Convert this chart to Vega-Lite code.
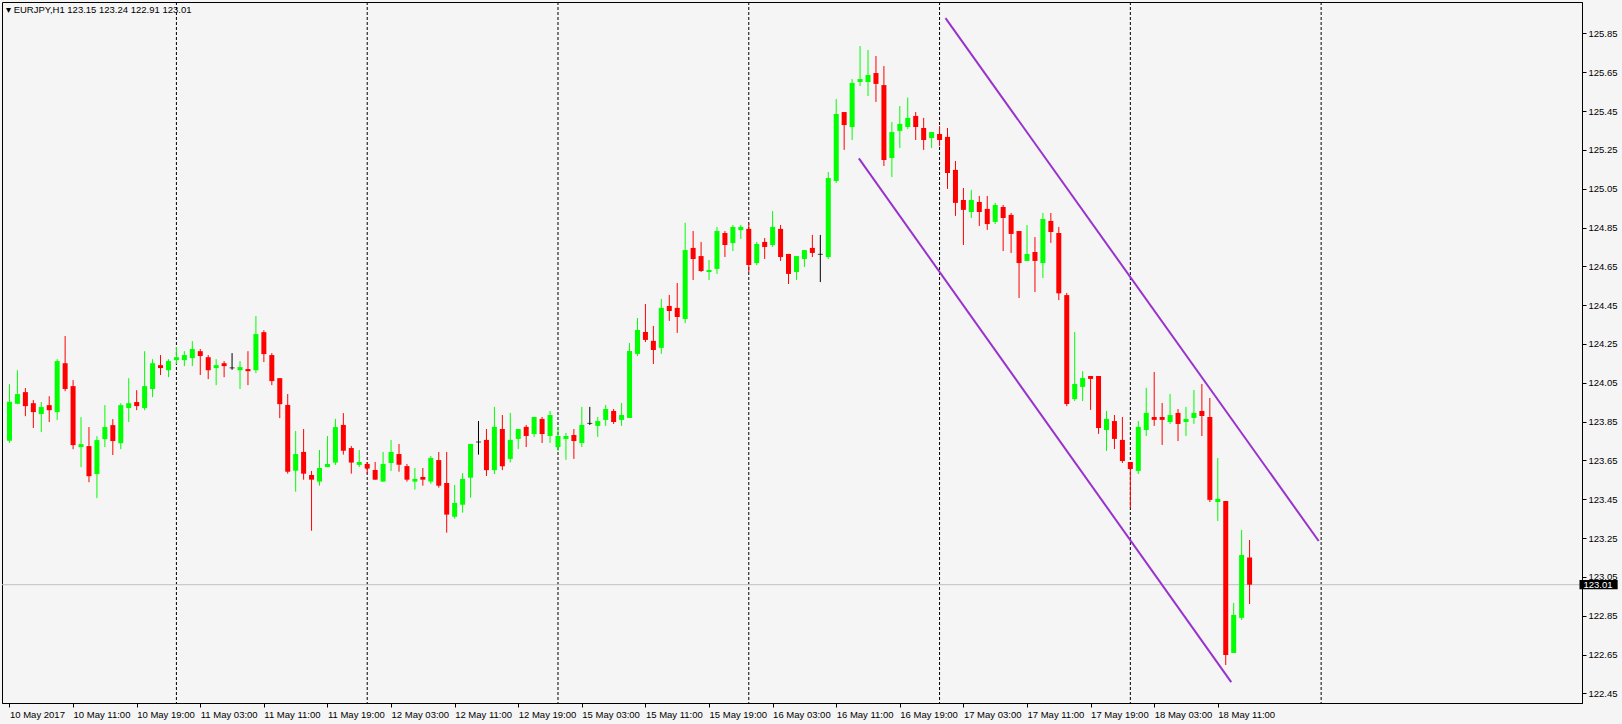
{
"$schema":"https://vega.github.io/schema/vega-lite/v6.json",
"width":1580,"height":701,
"autosize":{"type":"none"},
"padding":{"left":2,"top":2,"right":40,"bottom":21},
"background":"#F5F5F5",
"config":{"view":{"stroke":"#000000","strokeWidth":1},"font":"Liberation Sans"},
"title":{"text":"▾ EURJPY,H1  123.15 123.24 122.91 123.01","anchor":"start","frame":"group","orient":"top","offset":-11,"baseline":"alphabetic","fontSize":9.5,"font":"Liberation Sans","fontWeight":"normal","color":"#000000","dx":4,"dy":10},
"datasets":{
"candles":[
{"i":0,"o":123.751,"h":124.043,"l":123.741,"c":123.952},
{"i":1,"o":123.942,"h":124.115,"l":123.940,"c":123.992},
{"i":2,"o":124.002,"h":124.023,"l":123.878,"c":123.930},
{"i":3,"o":123.945,"h":123.961,"l":123.817,"c":123.899},
{"i":4,"o":123.889,"h":123.951,"l":123.796,"c":123.925},
{"i":5,"o":123.935,"h":123.981,"l":123.848,"c":123.909},
{"i":6,"o":123.899,"h":124.172,"l":123.858,"c":124.162},
{"i":7,"o":124.151,"h":124.291,"l":124.007,"c":124.018},
{"i":8,"o":124.033,"h":124.064,"l":123.708,"c":123.729},
{"i":9,"o":123.719,"h":123.873,"l":123.616,"c":123.734},
{"i":10,"o":123.724,"h":123.822,"l":123.538,"c":123.569},
{"i":11,"o":123.580,"h":123.775,"l":123.456,"c":123.755},
{"i":12,"o":123.760,"h":123.935,"l":123.719,"c":123.822},
{"i":13,"o":123.832,"h":123.863,"l":123.678,"c":123.750},
{"i":14,"o":123.739,"h":123.945,"l":123.708,"c":123.935},
{"i":15,"o":123.920,"h":124.074,"l":123.848,"c":123.945},
{"i":16,"o":123.951,"h":124.012,"l":123.909,"c":123.930},
{"i":17,"o":123.920,"h":124.213,"l":123.909,"c":124.033},
{"i":18,"o":124.018,"h":124.172,"l":123.976,"c":124.151},
{"i":19,"o":124.141,"h":124.193,"l":124.090,"c":124.126},
{"i":20,"o":124.115,"h":124.172,"l":124.079,"c":124.162},
{"i":21,"o":124.167,"h":124.234,"l":124.146,"c":124.182},
{"i":22,"o":124.167,"h":124.213,"l":124.136,"c":124.193},
{"i":23,"o":124.177,"h":124.265,"l":124.136,"c":124.224},
{"i":24,"o":124.213,"h":124.224,"l":124.090,"c":124.188},
{"i":25,"o":124.182,"h":124.193,"l":124.069,"c":124.115},
{"i":26,"o":124.126,"h":124.172,"l":124.038,"c":124.141},
{"i":27,"o":124.151,"h":124.162,"l":124.079,"c":124.136},
{"i":28,"o":124.127,"h":124.203,"l":124.117,"c":124.127},
{"i":29,"o":124.115,"h":124.162,"l":124.018,"c":124.131},
{"i":30,"o":124.121,"h":124.213,"l":124.038,"c":124.110},
{"i":31,"o":124.115,"h":124.394,"l":124.100,"c":124.301},
{"i":32,"o":124.311,"h":124.321,"l":124.157,"c":124.198},
{"i":33,"o":124.193,"h":124.203,"l":124.038,"c":124.059},
{"i":34,"o":124.074,"h":124.074,"l":123.868,"c":123.940},
{"i":35,"o":123.936,"h":123.992,"l":123.582,"c":123.592},
{"i":36,"o":123.597,"h":123.802,"l":123.489,"c":123.683},
{"i":37,"o":123.694,"h":123.812,"l":123.551,"c":123.582},
{"i":38,"o":123.575,"h":123.596,"l":123.288,"c":123.551},
{"i":39,"o":123.541,"h":123.704,"l":123.520,"c":123.611},
{"i":40,"o":123.616,"h":123.776,"l":123.616,"c":123.632},
{"i":41,"o":123.639,"h":123.864,"l":123.627,"c":123.822},
{"i":42,"o":123.833,"h":123.894,"l":123.680,"c":123.700},
{"i":43,"o":123.714,"h":123.724,"l":123.582,"c":123.639},
{"i":44,"o":123.627,"h":123.704,"l":123.616,"c":123.642},
{"i":45,"o":123.632,"h":123.642,"l":123.582,"c":123.608},
{"i":46,"o":123.601,"h":123.642,"l":123.551,"c":123.551},
{"i":47,"o":123.541,"h":123.694,"l":123.541,"c":123.632},
{"i":48,"o":123.637,"h":123.755,"l":123.596,"c":123.694},
{"i":49,"o":123.683,"h":123.735,"l":123.592,"c":123.628},
{"i":50,"o":123.621,"h":123.632,"l":123.541,"c":123.551},
{"i":51,"o":123.541,"h":123.611,"l":123.500,"c":123.555},
{"i":52,"o":123.565,"h":123.611,"l":123.520,"c":123.551},
{"i":53,"o":123.541,"h":123.673,"l":123.530,"c":123.663},
{"i":54,"o":123.652,"h":123.694,"l":123.510,"c":123.520},
{"i":55,"o":123.534,"h":123.694,"l":123.278,"c":123.371},
{"i":56,"o":123.360,"h":123.524,"l":123.350,"c":123.431},
{"i":57,"o":123.422,"h":123.585,"l":123.381,"c":123.555},
{"i":58,"o":123.561,"h":123.735,"l":123.458,"c":123.735},
{"i":59,"o":123.745,"h":123.853,"l":123.680,"c":123.745},
{"i":60,"o":123.756,"h":123.812,"l":123.570,"c":123.600},
{"i":61,"o":123.600,"h":123.926,"l":123.580,"c":123.823},
{"i":62,"o":123.812,"h":123.884,"l":123.600,"c":123.620},
{"i":63,"o":123.658,"h":123.895,"l":123.640,"c":123.756},
{"i":64,"o":123.761,"h":123.812,"l":123.709,"c":123.812},
{"i":65,"o":123.823,"h":123.833,"l":123.719,"c":123.776},
{"i":66,"o":123.786,"h":123.874,"l":123.771,"c":123.874},
{"i":67,"o":123.864,"h":123.874,"l":123.740,"c":123.786},
{"i":68,"o":123.776,"h":123.905,"l":123.740,"c":123.884},
{"i":69,"o":123.719,"h":123.823,"l":123.699,"c":123.776},
{"i":70,"o":123.761,"h":123.792,"l":123.653,"c":123.776},
{"i":71,"o":123.781,"h":123.812,"l":123.658,"c":123.750},
{"i":72,"o":123.740,"h":123.926,"l":123.719,"c":123.833},
{"i":73,"o":123.841,"h":123.926,"l":123.833,"c":123.841},
{"i":74,"o":123.828,"h":123.874,"l":123.771,"c":123.853},
{"i":75,"o":123.859,"h":123.936,"l":123.828,"c":123.915},
{"i":76,"o":123.905,"h":123.915,"l":123.838,"c":123.848},
{"i":77,"o":123.859,"h":123.946,"l":123.828,"c":123.884},
{"i":78,"o":123.869,"h":124.255,"l":123.869,"c":124.214},
{"i":79,"o":124.199,"h":124.384,"l":124.188,"c":124.322},
{"i":80,"o":124.312,"h":124.456,"l":124.260,"c":124.271},
{"i":81,"o":124.266,"h":124.343,"l":124.147,"c":124.219},
{"i":82,"o":124.230,"h":124.482,"l":124.199,"c":124.436},
{"i":83,"o":124.446,"h":124.503,"l":124.369,"c":124.420},
{"i":84,"o":124.436,"h":124.564,"l":124.307,"c":124.389},
{"i":85,"o":124.379,"h":124.874,"l":124.358,"c":124.734},
{"i":86,"o":124.745,"h":124.832,"l":124.580,"c":124.688},
{"i":87,"o":124.703,"h":124.776,"l":124.621,"c":124.626},
{"i":88,"o":124.621,"h":124.683,"l":124.580,"c":124.631},
{"i":89,"o":124.637,"h":124.853,"l":124.611,"c":124.832},
{"i":90,"o":124.822,"h":124.832,"l":124.698,"c":124.760},
{"i":91,"o":124.770,"h":124.863,"l":124.729,"c":124.853},
{"i":92,"o":124.837,"h":124.863,"l":124.791,"c":124.853},
{"i":93,"o":124.843,"h":124.873,"l":124.621,"c":124.657},
{"i":94,"o":124.667,"h":124.776,"l":124.657,"c":124.765},
{"i":95,"o":124.776,"h":124.796,"l":124.688,"c":124.750},
{"i":96,"o":124.760,"h":124.935,"l":124.750,"c":124.853},
{"i":97,"o":124.843,"h":124.863,"l":124.678,"c":124.698},
{"i":98,"o":124.714,"h":124.714,"l":124.559,"c":124.611},
{"i":99,"o":124.621,"h":124.703,"l":124.580,"c":124.703},
{"i":100,"o":124.688,"h":124.734,"l":124.647,"c":124.734},
{"i":101,"o":124.745,"h":124.812,"l":124.698,"c":124.719},
{"i":102,"o":124.712,"h":124.812,"l":124.569,"c":124.712},
{"i":103,"o":124.698,"h":125.136,"l":124.688,"c":125.105},
{"i":104,"o":125.090,"h":125.512,"l":125.080,"c":125.435},
{"i":105,"o":125.445,"h":125.445,"l":125.250,"c":125.378},
{"i":106,"o":125.368,"h":125.615,"l":125.301,"c":125.595},
{"i":107,"o":125.600,"h":125.785,"l":125.579,"c":125.615},
{"i":108,"o":125.600,"h":125.765,"l":125.528,"c":125.636},
{"i":109,"o":125.646,"h":125.734,"l":125.497,"c":125.590},
{"i":110,"o":125.584,"h":125.682,"l":125.167,"c":125.198},
{"i":111,"o":125.208,"h":125.394,"l":125.110,"c":125.342},
{"i":112,"o":125.348,"h":125.476,"l":125.260,"c":125.384},
{"i":113,"o":125.368,"h":125.520,"l":125.358,"c":125.415},
{"i":114,"o":125.425,"h":125.445,"l":125.301,"c":125.368},
{"i":115,"o":125.363,"h":125.415,"l":125.250,"c":125.301},
{"i":116,"o":125.311,"h":125.342,"l":125.260,"c":125.342},
{"i":117,"o":125.332,"h":125.373,"l":125.270,"c":125.301},
{"i":118,"o":125.317,"h":125.363,"l":125.049,"c":125.131},
{"i":119,"o":125.147,"h":125.193,"l":124.910,"c":124.977},
{"i":120,"o":124.992,"h":125.054,"l":124.760,"c":124.941},
{"i":121,"o":124.930,"h":125.044,"l":124.899,"c":124.992},
{"i":122,"o":124.982,"h":125.013,"l":124.858,"c":124.930},
{"i":123,"o":124.946,"h":125.013,"l":124.838,"c":124.868},
{"i":124,"o":124.879,"h":124.977,"l":124.868,"c":124.966},
{"i":125,"o":124.956,"h":124.966,"l":124.729,"c":124.899},
{"i":126,"o":124.915,"h":124.925,"l":124.719,"c":124.817},
{"i":127,"o":124.832,"h":124.832,"l":124.487,"c":124.667},
{"i":128,"o":124.678,"h":124.863,"l":124.678,"c":124.714},
{"i":129,"o":124.724,"h":124.801,"l":124.518,"c":124.678},
{"i":130,"o":124.667,"h":124.925,"l":124.590,"c":124.894},
{"i":131,"o":124.884,"h":124.925,"l":124.771,"c":124.827},
{"i":132,"o":124.822,"h":124.853,"l":124.476,"c":124.511},
{"i":133,"o":124.502,"h":124.513,"l":123.930,"c":123.941},
{"i":134,"o":123.966,"h":124.312,"l":123.956,"c":124.044},
{"i":135,"o":124.029,"h":124.110,"l":123.956,"c":124.075},
{"i":136,"o":124.085,"h":124.085,"l":123.910,"c":124.070},
{"i":137,"o":124.085,"h":124.085,"l":123.787,"c":123.817},
{"i":138,"o":123.807,"h":123.905,"l":123.699,"c":123.864},
{"i":139,"o":123.853,"h":123.884,"l":123.709,"c":123.761},
{"i":140,"o":123.756,"h":123.874,"l":123.637,"c":123.647},
{"i":141,"o":123.642,"h":123.642,"l":123.405,"c":123.606},
{"i":142,"o":123.596,"h":123.853,"l":123.580,"c":123.823},
{"i":143,"o":123.807,"h":124.024,"l":123.776,"c":123.895},
{"i":144,"o":123.874,"h":124.106,"l":123.828,"c":123.859},
{"i":145,"o":123.874,"h":123.946,"l":123.730,"c":123.859},
{"i":146,"o":123.848,"h":123.993,"l":123.838,"c":123.884},
{"i":147,"o":123.895,"h":123.915,"l":123.750,"c":123.838},
{"i":148,"o":123.848,"h":123.926,"l":123.776,"c":123.864},
{"i":149,"o":123.869,"h":124.013,"l":123.838,"c":123.895},
{"i":150,"o":123.905,"h":124.044,"l":123.776,"c":123.879},
{"i":151,"o":123.874,"h":123.972,"l":123.436,"c":123.447},
{"i":152,"o":123.436,"h":123.663,"l":123.338,"c":123.452},
{"i":153,"o":123.441,"h":123.441,"l":122.596,"c":122.648},
{"i":154,"o":122.658,"h":122.916,"l":122.658,"c":122.854},
{"i":155,"o":122.839,"h":123.292,"l":122.828,"c":123.163},
{"i":156,"o":123.150,"h":123.240,"l":122.910,"c":123.010}
],
"seps":[{"i":21},{"i":45},{"i":69},{"i":93},{"i":117},{"i":141},{"i":165}],
"trend":[
{"line":"upper","i":117.75,"p":125.929},{"line":"upper","i":164.69,"p":123.235},
{"line":"lower","i":106.85,"p":125.206},{"line":"lower","i":153.69,"p":122.508}
],
"last":[{"i":197.5,"i2":202.3,"p":123.01,"pl":122.986,"ph":123.034,"label":"123.01"}]
},
"encoding":{
"x":{"field":"i","type":"quantitative","scale":{"domain":[-0.3125,197.1875],"nice":false,"zero":false},
"axis":{"orient":"bottom","title":null,"grid":false,"values":[0,8,16,24,32,40,48,56,64,72,80,88,96,104,112,120,128,136,144,152],
"labelExpr":"['10 May 2017','10 May 11:00','10 May 19:00','11 May 03:00','11 May 11:00','11 May 19:00','12 May 03:00','12 May 11:00','12 May 19:00','15 May 03:00','15 May 11:00','15 May 19:00','16 May 03:00','16 May 11:00','16 May 19:00','17 May 03:00','17 May 11:00','17 May 19:00','18 May 03:00','18 May 11:00'][round(datum.value/8)]",
"labelAlign":"left","labelBaseline":"top","labelPadding":2,"labelOverlap":false,"labelFlush":false,"labelBound":false,
"tickSize":4,"tickColor":"#000000","domainColor":"#000000","labelColor":"#000000","labelFont":"Liberation Sans","labelFontSize":9.5}}
},
"layer":[
{"data":{"name":"seps"},"mark":{"type":"rule","color":"#000000","strokeWidth":1,"strokeDash":[3,2]},"encoding":{}},
{"data":{"name":"last"},"mark":{"type":"rule","color":"#C0C0C0","strokeWidth":1},
 "encoding":{"x":null,"y":{"field":"p","type":"quantitative","scale":{"domain":[122.4004,126.012],"nice":false,"zero":false},
 "axis":{"orient":"right","title":null,"grid":false,"values":[122.45,122.65,122.85,123.05,123.25,123.45,123.65,123.85,124.05,124.25,124.45,124.65,124.85,125.05,125.25,125.45,125.65,125.85],"format":".2f","labelOverlap":false,"labelBound":false,"labelFlush":false,"tickSize":4,"tickColor":"#000000","domainColor":"#000000","labelColor":"#000000","labelFont":"Liberation Sans","labelFontSize":9.5,"labelPadding":2}}}},
{"data":{"name":"candles"},"mark":{"type":"rule","strokeWidth":1},
 "encoding":{"y":{"field":"l","type":"quantitative"},"y2":{"field":"h"},
 "color":{"condition":[{"test":"datum.c > datum.o","value":"#00FF00"},{"test":"datum.c < datum.o","value":"#FF0000"}],"value":"#000000"}}},
{"data":{"name":"candles"},"mark":{"type":"bar","width":5},
 "encoding":{"y":{"field":"o","type":"quantitative"},"y2":{"field":"c"},
 "color":{"condition":[{"test":"datum.c > datum.o","value":"#00FF00"},{"test":"datum.c < datum.o","value":"#FF0000"}],"value":"#000000"}}},
{"data":{"name":"candles"},"transform":[{"filter":"datum.o == datum.c"}],"mark":{"type":"tick","orient":"horizontal","size":5,"thickness":1,"color":"#000000"},
 "encoding":{"y":{"field":"o","type":"quantitative"}}},
{"data":{"name":"trend"},"mark":{"type":"line","color":"#9932CC","strokeWidth":2},
 "encoding":{"y":{"field":"p","type":"quantitative"},"detail":{"field":"line"}}},
{"data":{"name":"last"},"mark":{"type":"rect","color":"#000000"},
 "encoding":{"x2":{"field":"i2"},"y":{"field":"pl","type":"quantitative"},"y2":{"field":"ph"}}},
{"data":{"name":"last"},"mark":{"type":"text","color":"#FFFFFF","align":"left","baseline":"middle","dx":4,"font":"Liberation Sans","fontSize":9.5},
 "encoding":{"y":{"field":"p","type":"quantitative"},"text":{"field":"label"}}}
]
}
